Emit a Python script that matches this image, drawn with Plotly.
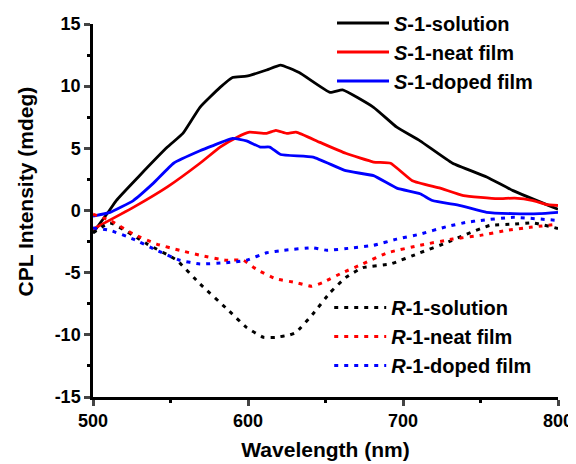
import plotly.graph_objects as go

# S-1 (solid lines)
s_sol_x = [500, 510, 515, 530, 548, 558, 569, 582, 590, 599, 612, 621, 633, 653, 661, 681, 696, 711, 732, 754, 771, 800]
s_sol_y = [-1.8, -0.1, 0.8, 2.8, 5.1, 6.2, 8.3, 9.9, 10.7, 10.8, 11.3, 11.7, 11.1, 9.5, 9.7, 8.3, 6.7, 5.6, 3.8, 2.7, 1.6, 0.1]

s_neat_x = [500, 526, 548, 569, 582, 593, 601, 612, 618, 625, 631, 646, 663, 681, 692, 706, 724, 739, 761, 772, 784, 792, 800]
s_neat_y = [-1.5, 0.25, 1.9, 3.8, 5.1, 5.9, 6.3, 6.2, 6.45, 6.2, 6.3, 5.5, 4.6, 3.9, 3.8, 2.4, 1.8, 1.2, 0.95, 1.0, 0.8, 0.5, 0.4]

s_dop_x = [500, 511, 526, 539, 552, 569, 577, 590, 599, 608, 614, 621, 642, 663, 681, 696, 711, 719, 737, 754, 771, 788, 800]
s_dop_y = [-0.45, -0.15, 0.8, 2.2, 3.8, 4.8, 5.2, 5.8, 5.6, 5.1, 5.1, 4.5, 4.3, 3.2, 2.8, 1.8, 1.35, 0.8, 0.4, -0.15, -0.25, -0.25, -0.15]

# R-1 (dotted lines)
r_sol_x = [500, 511, 535, 554, 569, 588, 599, 610, 618, 627, 631, 642, 653, 663, 674, 692, 711, 728, 741, 756, 771, 784, 800]
r_sol_y = [-1.8, -1.0, -2.7, -4.0, -5.9, -8.1, -9.4, -10.2, -10.2, -10.0, -9.8, -8.3, -6.6, -5.4, -4.6, -4.3, -3.4, -2.6, -1.9, -1.2, -1.1, -1.0, -1.45]

r_neat_x = [500, 511, 526, 541, 556, 569, 586, 597, 605, 618, 631, 641, 648, 661, 674, 690, 711, 732, 750, 767, 782, 800]
r_neat_y = [-0.3, -0.8, -1.9, -2.7, -3.2, -3.6, -4.0, -4.0, -4.7, -5.5, -5.8, -6.1, -5.8, -5.0, -4.3, -3.4, -2.8, -2.3, -2.0, -1.6, -1.35, -1.1]

r_dop_x = [500, 511, 526, 541, 556, 569, 586, 599, 612, 623, 642, 651, 668, 681, 696, 711, 728, 741, 750, 771, 800]
r_dop_y = [-1.4, -1.6, -2.3, -3.2, -4.0, -4.3, -4.2, -4.0, -3.4, -3.2, -3.0, -3.2, -3.0, -2.8, -2.3, -1.9, -1.3, -0.95, -0.8, -0.55, -0.8]

y_ticks = [-15, -10, -5, 0, 5, 10, 15]
y_labels = ["-15", "-10", "-5", "0", "5", "10", "15"]
x_ticks = [500, 600, 700, 800]

fig = go.Figure()

solid = [(s_sol_x, s_sol_y, "black", "<i>S</i>-1-solution"),
         (s_neat_x, s_neat_y, "red", "<i>S</i>-1-neat film"),
         (s_dop_x, s_dop_y, "blue", "<i>S</i>-1-doped film")]
dotted = [(r_sol_x, r_sol_y, "black", "<i>R</i>-1-solution"),
          (r_neat_x, r_neat_y, "red", "<i>R</i>-1-neat film"),
          (r_dop_x, r_dop_y, "blue", "<i>R</i>-1-doped film")]

for x, y, c, name in solid:
    fig.add_trace(go.Scatter(x=x, y=y, mode="lines", name=name,
                             line=dict(color=c, width=2.8, shape="spline", smoothing=0.4),
                             legend="legend"))
for x, y, c, name in dotted:
    fig.add_trace(go.Scatter(x=x, y=y, mode="lines", name=name,
                             line=dict(color=c, width=3, dash="4px,6px", shape="spline", smoothing=0.4),
                             legend="legend2"))

fam = "Liberation Sans, Arial"
legfont = dict(family=fam, size=20, color="black", weight="bold")

# page body has an 8px margin, so the figure is a bit smaller than the window
fig.update_layout(
    width=568, height=456,
    margin=dict(l=85, r=18, t=16, b=67, autoexpand=False),
    plot_bgcolor="white", paper_bgcolor="white",
    font=dict(family=fam, size=18, color="black", weight="bold"),
    legend=dict(x=0.514, y=1.055, xanchor="left", yanchor="top", font=legfont,
                bgcolor="rgba(0,0,0,0)", tracegroupgap=0, itemwidth=52),
    legend2=dict(x=0.508, y=0.292, xanchor="left", yanchor="top", font=legfont,
                 bgcolor="rgba(0,0,0,0)", tracegroupgap=0, itemwidth=52),
    xaxis=dict(range=[500, 800], tickvals=x_ticks, automargin=False,
               ticks="outside", ticklen=6, tickwidth=2.5, showline=True, linewidth=2.5, linecolor="black",
               showgrid=False, zeroline=False,
               minor=dict(tickvals=[550, 650, 750], ticks="outside", ticklen=3, tickwidth=2.5, tickcolor="black"),
               title=dict(text="Wavelength (nm)", font=dict(size=21, weight="bold"), standoff=12)),
    yaxis=dict(range=[-15, 15], tickvals=y_ticks, ticktext=y_labels, automargin=False,
               ticks="outside", ticklen=6, tickwidth=2.5, showline=True, linewidth=2.5, linecolor="black",
               showgrid=False, zeroline=False,
               minor=dict(tickvals=[-12.5, -7.5, -2.5, 2.5, 7.5, 12.5], ticks="outside", ticklen=3, tickwidth=2.5, tickcolor="black")),
    annotations=[dict(text="CPL Intensity (mdeg)", textangle=-90, showarrow=False,
                      xref="paper", yref="paper", x=-0.145, y=0.55, xanchor="center", yanchor="middle",
                      font=dict(family=fam, size=21, color="black", weight="bold"))],
)

fig.write_html("out.html")
